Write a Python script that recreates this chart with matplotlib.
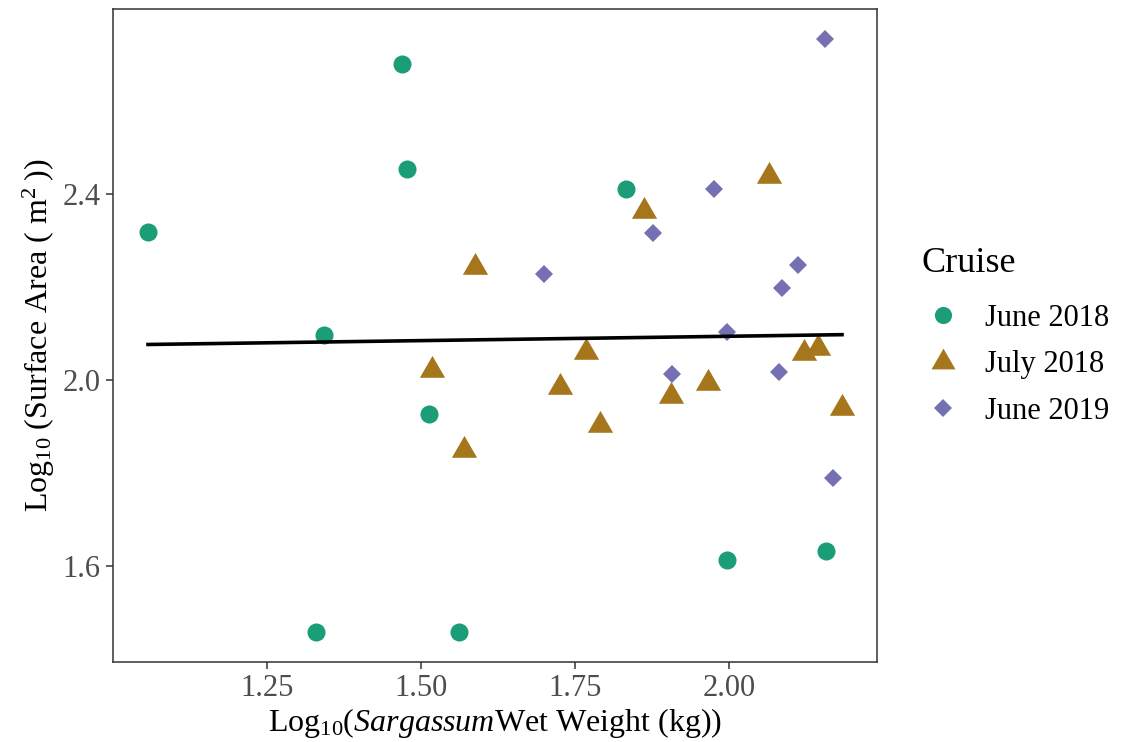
import numpy as np
import matplotlib
matplotlib.use("Agg")
import matplotlib.pyplot as plt
from matplotlib.lines import Line2D

plt.rcParams["font.family"] = ["Liberation Serif", "DejaVu Serif"]
plt.rcParams["mathtext.fontset"] = "custom"
plt.rcParams["mathtext.rm"] = "Liberation Serif"
plt.rcParams["mathtext.it"] = "Liberation Serif:italic"
plt.rcParams["mathtext.bf"] = "Liberation Serif:bold"

# log10 wet weight (kg) and log10 surface area (m^2) per cruise
june2018_x = [1.057, 1.469, 1.477, 1.343, 1.513, 1.329, 1.562, 1.833, 1.997, 2.157]
june2018_y = [2.317, 2.679, 2.453, 2.096, 1.927, 1.459, 1.459, 2.409, 1.614, 1.634]

july2018_x = [1.587, 1.517, 1.569, 1.862, 2.065, 1.767, 1.726, 1.790, 1.906, 1.966,
              2.122, 2.144, 2.183]
july2018_y = [2.242, 2.021, 1.850, 2.363, 2.438, 2.061, 1.985, 1.904, 1.966, 1.994,
              2.057, 2.068, 1.940]

june2019_x = [2.156, 1.975, 1.876, 1.700, 2.112, 2.085, 1.997, 1.907, 2.080, 2.169]
june2019_y = [2.732, 2.410, 2.316, 2.227, 2.246, 2.197, 2.102, 2.012, 2.017, 1.790]

cruises = ["June 2018", "July 2018", "June 2019"]
colors = ["#1B9E77", "#A6761D", "#7570B3"]

# triangle with its centroid on the data point
tri = [(0.0, 1.0), (-0.866, -0.5), (0.866, -0.5), (0.0, 1.0)]
markers = ["o", tri, "D"]
msizes = [13.0, 21.0, 9.3]

fig = plt.figure(figsize=(11.24, 7.42), dpi=100)
ax = fig.add_axes([0.1008, 0.1082, 0.6792, 0.8793])

series = [(june2018_x, june2018_y), (july2018_x, july2018_y), (june2019_x, june2019_y)]
for (xs, ys), c, m, ms in zip(series, colors, markers, msizes):
    ax.plot(xs, ys, linestyle="none", marker=m, markersize=ms, color=c,
            markeredgewidth=0, zorder=3)

# pooled linear fit across all cruises
all_x = np.concatenate([np.asarray(s[0]) for s in series])
all_y = np.concatenate([np.asarray(s[1]) for s in series])
slope, intercept = np.polyfit(all_x, all_y, 1)
fx = np.array([all_x.min(), all_x.max()])
ax.plot(fx, intercept + slope * fx, color="black", linewidth=2.6, zorder=4)

# ggplot-like 5% expansion
xr = all_x.max() - all_x.min()
yr = all_y.max() - all_y.min()
ax.set_xlim(all_x.min() - 0.05 * xr, all_x.max() + 0.05 * xr)
ax.set_ylim(all_y.min() - 0.05 * yr, all_y.max() + 0.05 * yr)

ax.set_xticks([1.25, 1.50, 1.75, 2.00])
ax.set_xticklabels(["1.25", "1.50", "1.75", "2.00"])
ax.set_yticks([1.6, 2.0, 2.4])
ax.set_yticklabels(["1.6", "2.0", "2.4"])
ax.tick_params(axis="both", labelsize=22, labelcolor="#4D4D4D", color="#333333",
               length=5, width=1.1, pad=4)
for sp in ax.spines.values():
    sp.set_color("#333333")
    sp.set_linewidth(1.1)

ax.set_xlabel(r"Log$_{10}$($\it{Sargassum}$Wet Weight (kg))", fontsize=23, labelpad=2)
ax.set_ylabel(r"Log$_{10}$ (Surface Area ( m$^{2}$$\;$))", fontsize=23, labelpad=4)

handles = [Line2D([], [], linestyle="none", marker=m, markersize=ms * 0.95, color=c,
                  markeredgewidth=0)
           for c, m, ms in zip(colors, markers, msizes)]
leg = fig.legend(handles, cruises, title="Cruise", loc="upper left",
                 bbox_to_anchor=(0.8004, 0.696), frameon=False, fontsize=22,
                 title_fontsize=26, alignment="left", handlelength=1.45,
                 handletextpad=0.64, labelspacing=0.58, borderpad=0.2)
leg._legend_box.sep = 17

fig.savefig("out.png", dpi=100, facecolor="white")
